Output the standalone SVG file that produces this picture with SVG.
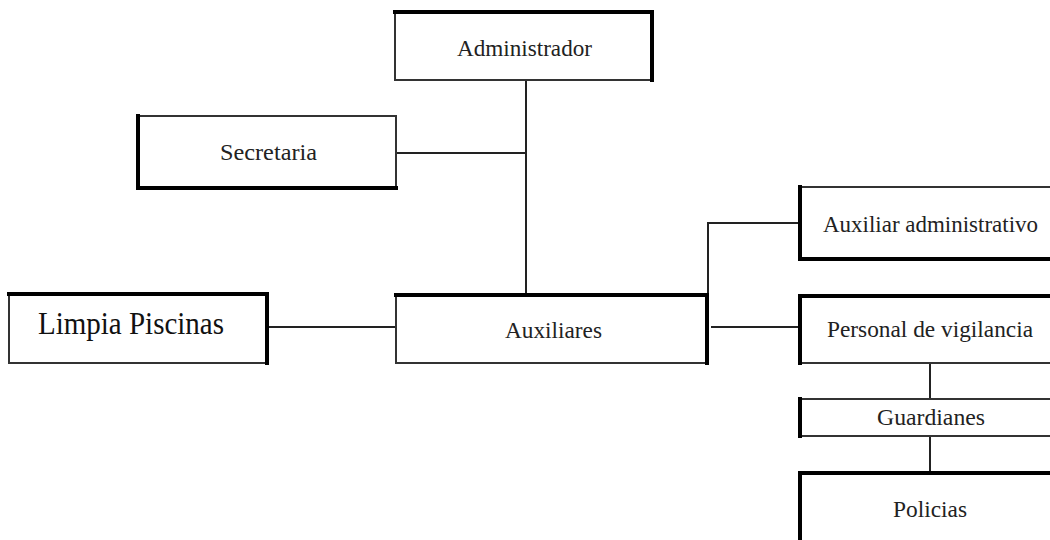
<svg xmlns="http://www.w3.org/2000/svg" width="1050" height="540" viewBox="0 0 1050 540">
<style>
.box{fill:#fff;stroke:#333;stroke-width:2}
.thick{fill:none;stroke:#000;stroke-width:4;stroke-linecap:square}
.conn{fill:none;stroke:#222;stroke-width:2}
.lbl{font-family:"Liberation Serif","Times New Roman",serif;font-size:24px;fill:#222}
.big{font-family:"Liberation Serif","Times New Roman",serif;font-size:31px;fill:#111}
</style>
<rect width="1050" height="540" fill="#fff"/>
<g id="connectors">
<path class="conn" d="M526 81V295"/>
<path class="conn" d="M396 153H526"/>
<path class="conn" d="M267 327H396"/>
<path class="conn" d="M708 295V223H800"/>
<path class="conn" d="M711 327H800"/>
<path class="conn" d="M930 363V399"/>
<path class="conn" d="M930 436V473"/>
</g>
<g id="administrador">
<rect class="box" x="395" y="12" width="257" height="68"/>
<path class="thick" d="M395 12H652V80"/>
<text class="lbl" x="457" y="56" textLength="135" lengthAdjust="spacingAndGlyphs">Administrador</text>
</g>
<g id="secretaria">
<rect class="box" x="138" y="116" width="258" height="72"/>
<path class="thick" d="M138 116V188H396"/>
<text class="lbl" x="220" y="160" textLength="97" lengthAdjust="spacingAndGlyphs">Secretaria</text>
</g>
<g id="limpia">
<rect class="box" x="9" y="294" width="258" height="69"/>
<path class="thick" d="M9 294H267V363"/>
<text class="big" x="38" y="334" textLength="186" lengthAdjust="spacingAndGlyphs">Limpia Piscinas</text>
</g>
<g id="auxiliares">
<rect class="box" x="396" y="295" width="311" height="68"/>
<path class="thick" d="M396 295H707V363"/>
<text class="lbl" x="505" y="338" textLength="97" lengthAdjust="spacingAndGlyphs">Auxiliares</text>
</g>
<g id="auxiliar-administrativo">
<rect class="box" x="800" y="187" width="262" height="72"/>
<path class="thick" d="M800 187V259H1062"/>
<text class="lbl" x="823" y="232" textLength="215" lengthAdjust="spacingAndGlyphs">Auxiliar administrativo</text>
</g>
<g id="personal-vigilancia">
<rect class="box" x="800" y="296" width="262" height="67"/>
<path class="thick" d="M800 363V296H1062"/>
<text class="lbl" x="827" y="337" textLength="206" lengthAdjust="spacingAndGlyphs">Personal de vigilancia</text>
</g>
<g id="guardianes">
<rect class="box" x="800" y="399" width="262" height="37"/>
<path class="thick" d="M800 399V436"/>
<text class="lbl" x="877" y="425" textLength="108" lengthAdjust="spacingAndGlyphs">Guardianes</text>
</g>
<g id="policias">
<rect class="box" x="800" y="473" width="262" height="90"/>
<path class="thick" d="M800 563V473H1062"/>
<text class="lbl" x="893" y="517" textLength="74" lengthAdjust="spacingAndGlyphs">Policias</text>
</g>
</svg>
